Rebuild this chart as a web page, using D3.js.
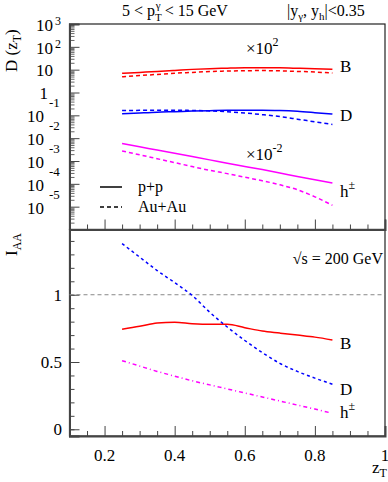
<!DOCTYPE html>
<html>
<head>
<meta charset="utf-8">
<script src="https://cdn.jsdelivr.net/npm/d3@7"></script>
<style>
body{margin:0;background:#fff}
text{font-family:"Liberation Serif","Times New Roman",serif;fill:#000}
</style>
</head>
<body>
<svg id="chart"></svg>
<script>
// zT points of the curves
const zT = [0.25,0.30,0.35,0.40,0.45,0.50,0.55,0.60,0.65,0.70,0.75,0.80,0.85]

// D(zT), unscaled values (drawn times the scale factor)
const dB_pp   = [0.069,0.076,0.084,0.093,0.103,0.111,0.116,0.120,0.121,0.120,0.115,0.109,0.103]
const dB_auau = [0.049,0.055,0.062,0.070,0.076,0.083,0.087,0.090,0.091,0.089,0.084,0.079,0.071]
const dD_pp   = [0.116,0.127,0.138,0.145,0.153,0.159,0.166,0.169,0.169,0.163,0.150,0.131,0.113]
const dD_auau = [0.164,0.165,0.166,0.166,0.164,0.156,0.144,0.127,0.107,0.088,0.068,0.052,0.040]
const dH_pp   = [0.586,0.421,0.302,0.217,0.156,0.112,0.080,0.058,0.042,0.030,0.021,0.015,0.011]
const dH_auau = [0.277,0.187,0.126,0.085,0.057,0.039,0.028,0.0195,0.0136,0.0091,0.0055,0.0027,0.00115]
const scaleB = 100, scaleD = 1, scaleH = 0.01

// I_AA
const iaaB = [0.744,0.765,0.790,0.795,0.785,0.780,0.780,0.755,0.730,0.715,0.700,0.685,0.664]
const iaaD = [1.38,1.28,1.18,1.09,0.995,0.87,0.76,0.66,0.57,0.49,0.43,0.38,0.335]
const zH   = [0.25,0.30,0.35,0.40,0.45,0.50,0.55,0.60,0.65,0.70,0.75,0.80,0.84]
const iaaH = [0.51,0.47,0.43,0.395,0.36,0.33,0.30,0.27,0.24,0.21,0.18,0.15,0.125]

const xTicks = [0.2,0.4,0.6,0.8,1]
const xTickLabels = ['0.2','0.4','0.6','0.8','1']
const logExps = [3,2,1,0,-1,-2,-3,-4,-5]
const iaaTicks = [0,0.5,1]
const iaaTickLabels = ['0','0.5','1']

const W = 388, H = 482
const svg = d3.select('#chart').attr('width',W).attr('height',H)
svg.append('rect').attr('width',W).attr('height',H).attr('fill','#fff')

const left = 69.5, right = 385, top1 = 24, mid = 229.5, bot = 436

const x = d3.scaleLinear().domain([0.1,1]).range([left,right])
const yTop = d3.scaleLog().domain([1e-6,1e3]).range([mid,top1])
const yBot = d3.scaleLinear().domain([-0.05,1.485]).range([bot,mid])

// frames
svg.append('rect').attr('x',left).attr('y',top1).attr('width',right-left).attr('height',mid-top1)
  .attr('fill','none').attr('stroke','#222').attr('stroke-width',1.2)
svg.append('rect').attr('x',left).attr('y',mid).attr('width',right-left).attr('height',bot-mid)
  .attr('fill','none').attr('stroke','#222').attr('stroke-width',1.2)

// x axes (ticks pointing up)
const minorX = d3.range(0.15,1.0,0.05).filter(v => Math.abs(v*5 - Math.round(v*5)) > 1e-6)
for (const yy of [mid,bot]) {
  svg.append('g').attr('transform',`translate(0,${yy})`)
    .call(d3.axisBottom(x).tickValues(minorX).tickSize(-5).tickFormat(''))
    .call(g => g.select('.domain').remove())
    .selectAll('line').attr('stroke','#444')
  svg.append('g').attr('transform',`translate(0,${yy})`)
    .call(d3.axisBottom(x).tickValues(xTicks).tickSize(-10).tickFormat(''))
    .call(g => g.select('.domain').attr('stroke','#444').attr('stroke-width',2))
    .selectAll('line').attr('stroke','#444')
}
svg.selectAll('.xlab').data(xTicks).enter().append('text')
  .attr('x',d => x(d)).attr('y',461).attr('text-anchor','middle')
  .attr('font-size',17).text((d,i) => xTickLabels[i])

// top y axis (log)
const minorLog = []
for (let e = -6; e < 3; e++) for (let m = 2; m <= 9; m++) minorLog.push(m*Math.pow(10,e))
svg.append('g').attr('transform',`translate(${left},0)`)
  .call(d3.axisLeft(yTop).tickValues(minorLog).tickSize(-5).tickFormat(''))
  .call(g => g.select('.domain').remove())
  .selectAll('line').attr('stroke','#666')
svg.append('g').attr('transform',`translate(${left},0)`)
  .call(d3.axisLeft(yTop).tickValues(logExps.map(e => Math.pow(10,e))).tickSize(-10).tickFormat(''))
  .call(g => g.select('.domain').attr('stroke','#444').attr('stroke-width',2))
  .selectAll('line').attr('stroke','#444')

logExps.forEach(e => {
  const yy = yTop(Math.pow(10,e))
  if (e === 0) {
    svg.append('text').attr('x',48).attr('y',yy+6).attr('text-anchor','end').attr('font-size',17).text('1')
  } else if (e === 1) {
    svg.append('text').attr('x',53).attr('y',yy+6).attr('text-anchor','end').attr('font-size',17).text('10')
  } else if (e > 0) {
    svg.append('text').attr('x',53).attr('y',yy+7).attr('text-anchor','end').attr('font-size',17).text('10')
    svg.append('text').attr('x',55).attr('y',yy+1).attr('font-size',12).text(e)
  } else {
    svg.append('text').attr('x',44).attr('y',yy+7).attr('text-anchor','end').attr('font-size',17).text('10')
    svg.append('text').attr('x',49).attr('y',yy-8).attr('font-size',13).text(e)
  }
})

// bottom y axis
svg.append('g').attr('transform',`translate(${left},0)`)
  .call(d3.axisLeft(yBot).tickValues(d3.range(0,1.45,0.1)).tickSize(-5).tickFormat(''))
  .call(g => g.select('.domain').remove())
  .selectAll('line').attr('stroke','#444')
svg.append('g').attr('transform',`translate(${left},0)`)
  .call(d3.axisLeft(yBot).tickValues(iaaTicks).tickSize(-10).tickFormat(''))
  .call(g => g.select('.domain').attr('stroke','#444').attr('stroke-width',2))
  .selectAll('line').attr('stroke','#444')
svg.selectAll('.ylab').data(iaaTicks).enter().append('text')
  .attr('x',62).attr('y',d => yBot(d)+6).attr('text-anchor','end')
  .attr('font-size',17).text((d,i) => iaaTickLabels[i])

// reference line at 1
svg.append('line').attr('x1',left).attr('x2',right).attr('y1',yBot(1)).attr('y2',yBot(1))
  .attr('stroke','#888').attr('stroke-dasharray','4,3')

// curves
const lineTop = d3.line().x(d => x(d[0])).y(d => yTop(d[1])).curve(d3.curveMonotoneX)
const lineBot = d3.line().x(d => x(d[0])).y(d => yBot(d[1])).curve(d3.curveMonotoneX)

const topSeries = [
  {v:dB_pp,s:scaleB,c:'#ff0000',dash:null},
  {v:dB_auau,s:scaleB,c:'#ff0000',dash:'4,3'},
  {v:dD_pp,s:scaleD,c:'#0000ff',dash:null},
  {v:dD_auau,s:scaleD,c:'#0000ff',dash:'4,3'},
  {v:dH_pp,s:scaleH,c:'#ff00ff',dash:null},
  {v:dH_auau,s:scaleH,c:'#ff00ff',dash:'4,3'}
]
topSeries.forEach(t => {
  svg.append('path').datum(zT.map((z,i) => [z,t.v[i]*t.s]))
    .attr('d',lineTop).attr('fill','none').attr('stroke',t.c).attr('stroke-width',1.5)
    .attr('stroke-dasharray',t.dash)
})

svg.append('path').datum(zT.map((z,i) => [z,iaaB[i]])).attr('d',lineBot)
  .attr('fill','none').attr('stroke','#ff0000').attr('stroke-width',1.5)
svg.append('path').datum(zT.map((z,i) => [z,iaaD[i]])).attr('d',lineBot)
  .attr('fill','none').attr('stroke','#0000ff').attr('stroke-width',1.5).attr('stroke-dasharray','3,3')
svg.append('path').datum(zH.map((z,i) => [z,iaaH[i]])).attr('d',lineBot)
  .attr('fill','none').attr('stroke','#ff00ff').attr('stroke-width',1.5).attr('stroke-dasharray','4,3,1,3')

// legend
svg.append('line').attr('x1',100).attr('x2',122).attr('y1',187).attr('y2',187).attr('stroke','#000').attr('stroke-width',1.5)
svg.append('line').attr('x1',100).attr('x2',122).attr('y1',207).attr('y2',207).attr('stroke','#000').attr('stroke-width',1.5).attr('stroke-dasharray','4,3')
svg.append('text').attr('x',138).attr('y',192).attr('font-size',16).text('p+p')
svg.append('text').attr('x',138).attr('y',212).attr('font-size',16).text('Au+Au')

// labels
const addLab = (xx,yy,txt,sup,fs) => {
  const t = svg.append('text').attr('x',xx).attr('y',yy).attr('font-size',fs||17)
  t.append('tspan').text(txt)
  if (sup) t.append('tspan').attr('dy',-8).attr('font-size',12).text(sup)
}
addLab(246,54,'\u00d710','2')
addLab(246,160,'\u00d710','-2')
addLab(340,72,'B')
addLab(340,121,'D')
addLab(340,197,'h','\u00b1')
addLab(340,349,'B')
addLab(340,395,'D')
addLab(340,418,'h','\u00b1')
svg.append('text').attr('x',383).attr('y',264).attr('text-anchor','end').attr('font-size',16).text('\u221as = 200 GeV')

// title line
const t1 = svg.append('text').attr('x',122).attr('y',16).attr('font-size',16)
t1.append('tspan').text('5 < p')
t1.append('tspan').attr('dy',5).attr('font-size',11).text('T')
t1.append('tspan').attr('dx',-6).attr('dy',-12).attr('font-size',11).text('\u03b3')
t1.append('tspan').attr('dy',7).text(' < 15 GeV')
const t2 = svg.append('text').attr('x',287).attr('y',16).attr('font-size',16)
t2.append('tspan').text('|y')
t2.append('tspan').attr('dy',4).attr('font-size',11).text('\u03b3')
t2.append('tspan').attr('dy',-4).text(', y')
t2.append('tspan').attr('dy',4).attr('font-size',11).text('h')
t2.append('tspan').attr('dy',-4).text('|<0.35')

// axis titles
const yl = svg.append('text').attr('transform','translate(17,72) rotate(-90)').attr('font-size',17)
yl.append('tspan').text('D (z')
yl.append('tspan').attr('dy',4).attr('font-size',12).text('T')
yl.append('tspan').attr('dy',-4).text(')')
const il = svg.append('text').attr('transform','translate(17,256) rotate(-90)').attr('font-size',17)
il.append('tspan').text('I')
il.append('tspan').attr('dy',4).attr('font-size',12).text('AA')
const xl = svg.append('text').attr('x',372).attr('y',473).attr('font-size',17)
xl.append('tspan').text('z')
xl.append('tspan').attr('dy',4).attr('font-size',12).text('T')
</script>
</body>
</html>
